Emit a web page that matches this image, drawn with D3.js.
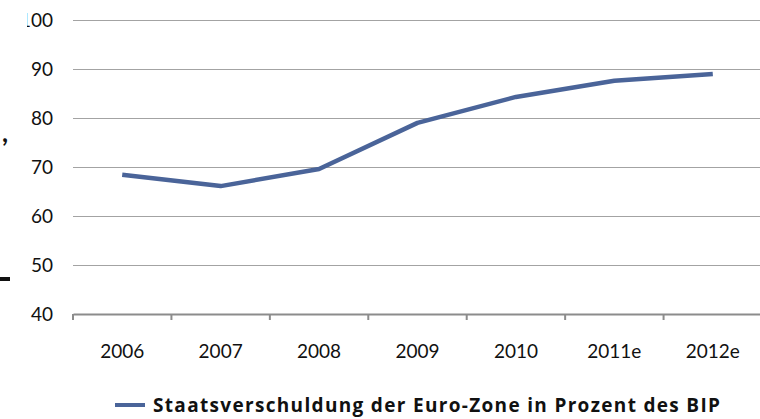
<!DOCTYPE html>
<html><head><meta charset="utf-8">
<script src="https://cdn.jsdelivr.net/npm/d3@7"></script>
<style>body{margin:0;background:#fff}svg{display:block}text{font-family:Lato,"Open Sans",sans-serif}</style>
</head><body>
<svg id="c" width="760" height="419"></svg>
<script>
const categories = ["2006","2007","2008","2009","2010","2011e","2012e"];
const values = [68.4, 66.1, 69.6, 79.0, 84.3, 87.6, 89.0];
const yTicks = [40,50,60,70,80,90,100];
const seriesName = "Staatsverschuldung der Euro-Zone in Prozent des BIP";

const svg = d3.select("#c");
const x = d3.scaleBand().domain(categories).range([73, 762]);
const y = d3.scaleLinear().domain([40,100]).range([314, 20]);

// gridlines
svg.append("g").selectAll("line").data(yTicks.filter(d=>d>40)).join("line")
  .attr("x1",73).attr("x2",760).attr("y1",d=>y(d)+0.5).attr("y2",d=>y(d)+0.5)
  .attr("stroke","#a3a3a3").attr("stroke-width",1.2);

// x axis
const xa = svg.append("g").attr("transform","translate(0,314)")
  .call(d3.axisBottom(x).tickSizeOuter(0).tickSize(0).tickPadding(31));
xa.select(".domain").attr("stroke","#8c8c8c").attr("stroke-width",2);
xa.selectAll("text").attr("font-size",19).attr("fill","#111");
svg.append("g").selectAll("line").data(categories).join("line")
  .attr("x1",d=>x(d)).attr("x2",d=>x(d)).attr("y1",314).attr("y2",320)
  .attr("stroke","#8c8c8c").attr("stroke-width",2);

// y labels
svg.append("clipPath").attr("id","yc").append("rect").attr("x",27).attr("y",0).attr("width",60).attr("height",419);
svg.append("g").attr("clip-path","url(#yc)").selectAll("text").data(yTicks).join("text")
  .attr("x",53).attr("y",d=>y(d)).attr("dy","0.35em").attr("text-anchor","end")
  .attr("font-size",19).attr("fill","#111").text(d=>d);

// stray remnants at left edge
svg.append("text").attr("x",2).attr("y",142).attr("font-size",26).attr("font-weight","bold").attr("fill","#111").text(",");
svg.append("rect").attr("x",0).attr("y",277).attr("width",10).attr("height",4).attr("fill","#111");

// line
svg.append("path").datum(values)
  .attr("d", d3.line().x((d,i)=>x(categories[i])+x.bandwidth()/2).y(d=>y(d)))
  .attr("fill","none").attr("stroke","#4a6499").attr("stroke-width",4.5).attr("stroke-linejoin","round");

// legend
svg.append("line").attr("x1",115).attr("x2",145).attr("y1",405).attr("y2",405)
  .attr("stroke","#4a6499").attr("stroke-width",4);
svg.append("text").attr("x",153).attr("y",412).attr("font-size",19)
  .style("font-family","'Open Sans',sans-serif").attr("font-weight","bold")
  .attr("fill","#111").attr("textLength",567).attr("lengthAdjust","spacing").text(seriesName);
</script>
</body></html>
